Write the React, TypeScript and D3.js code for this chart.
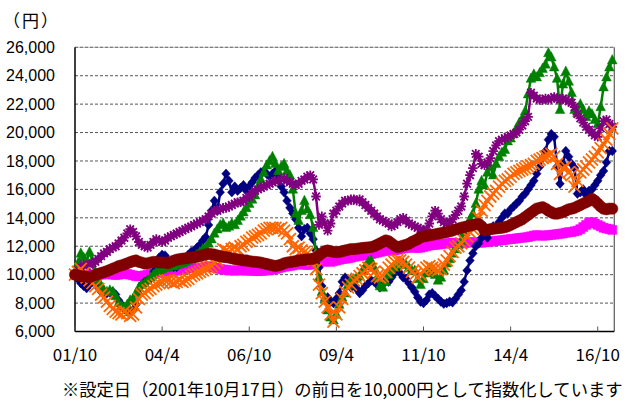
import React from "react";
import * as d3 from "d3";

// ---- data (monthly, 2001/10 .. 2017/3, index base 10,000 yen) ----
const xTickIndex = [0, 30, 60, 90, 120, 150, 180];
const xTickLabels = ["01/10", "04/4", "06/10", "09/4", "11/10", "14/4", "16/10"];
const yTicks = [6000, 8000, 10000, 12000, 14000, 16000, 18000, 20000, 22000, 24000, 26000];
const unitLabel = "（円）";
const footnote = "※設定日（2001年10月17日）の前日を10,000円として指数化しています";

const navyValues = [
  10000, 9700, 9400, 9200, 9050, 9300, 9500, 9400, 9100, 8800, 8650, 8700,
  8750, 8800, 8600, 8200, 7900, 7600, 7400, 7350, 7500, 7900, 8600, 9300,
  9500, 9600, 9700, 10200, 10800, 11200, 11400, 11350, 11000, 10700, 10550, 10550,
  10800, 11000, 11200, 11400, 11600, 11700, 11900, 12100, 12400, 12650, 13500, 14500,
  15200, 14500, 15800, 16400, 17100, 16600, 15800, 16200, 15900, 16100, 16300, 15900,
  16200, 16500, 16800, 17000, 17200, 17300, 17100, 16900, 17100, 17300, 16800, 16200,
  15800, 15200, 14700, 14300, 13900, 13300, 12700, 13200, 13300, 12900, 12500, 11700,
  10500, 9200, 8200, 8400, 8100, 8000, 8300, 8700, 9500, 9800, 9400, 9100,
  9300, 9000, 8700, 8900, 9200, 9400, 9600, 9500, 9300, 9100, 9300, 9600,
  9500, 9800, 10100, 10300, 10100, 9800, 9700, 9400, 9100, 8800, 8400, 8100,
  8000, 8200, 8600, 8700, 8500, 8300, 8100, 7950, 8000, 8100, 8050, 8300,
  8600, 8900, 9500, 10300, 11000, 11500, 12000, 12200, 12600, 12900, 12600, 13100,
  13400, 13300, 13700, 14000, 14300, 14300, 14600, 14800, 15000, 15200, 15500, 15700,
  16000, 16300, 16600, 17100, 17600, 18200, 18700, 19500, 19900, 19700, 17600, 16400,
  17800, 18700, 18300, 17800, 17500, 15700, 15800, 16000, 15600, 15900, 16000, 16300,
  16600, 17000, 17300, 17900, 18700, 18700,
];

const greenValues = [
  10000, 10800, 11500, 11200, 10900, 11600, 11000, 10200, 9600, 9200, 8900, 8800,
  8900, 8800, 8500, 8000, 7800, 7700, 7900, 8200, 8300, 8700, 9100, 9300,
  9400, 9600, 9800, 10000, 10200, 10300, 10400, 10500, 10500, 10600, 10600, 10700,
  10750, 10800, 10900, 11000, 11100, 11200, 11400, 11600, 11800, 11900, 12200, 12500,
  12900, 13200, 13500, 13600, 13300, 13400, 13600, 13500, 13800, 14100, 14400, 14700,
  15000, 15300, 15600, 16200, 16700, 17200, 17700, 18000, 18300, 17800, 17300, 17600,
  17800, 17300, 17000, 16000, 14300, 13800, 14500, 15200, 14600, 14200, 13300, 11500,
  9800, 8800, 8300, 7500, 7000, 6800, 7200, 7900, 8400, 8700, 9300, 9600,
  9700, 9800, 9900, 10300, 10600, 10900, 11000, 10500, 9800, 9200, 9100, 9500,
  10000, 10300, 10500, 10700, 10900, 10800, 10700, 10500, 10300, 10300, 9700, 9300,
  9700, 10100, 10200, 10400, 10000, 9600, 9800, 10300, 10800, 11100, 11500, 11800,
  12100, 12400, 13000, 13500, 13900, 14300, 15000, 16000, 16600, 16300, 17200, 17600,
  17000, 17800, 18300, 18600, 18800, 19400, 19600, 19900, 20300, 20700, 21000, 21500,
  22700, 23800, 24100, 23900, 24200, 24500, 24800, 25600, 25300, 24600, 23800, 21600,
  23400, 24300, 23600, 22800, 21600, 21400, 22000, 21600, 21100, 21500, 21300, 20900,
  20600, 21800, 23200, 23900, 24600, 25100,
];

const purpleValues = [
  10000, 10300, 10500, 10700, 10600, 10700, 10800, 10900, 11100, 11300, 11500, 11600,
  11800, 11900, 12000, 12200, 12400, 12600, 12900, 13200, 13000, 12700, 12300, 12100,
  12000, 11900, 12100, 12300, 12500, 12400, 12300, 12400, 12600, 12700, 12800, 12900,
  13000, 13100, 13200, 13300, 13400, 13500, 13600, 13700, 13800, 13900, 14100, 14300,
  14500, 14500, 14600, 14700, 14700, 14800, 14900, 15000, 15100, 15100, 15200, 15400,
  15500, 15700, 15900, 16000, 16100, 16200, 16300, 16400, 16500, 16600, 16600, 16700,
  16800, 16600, 16500, 16400, 16300, 16400, 16600, 16700, 16900, 17000, 16700, 15500,
  13500, 14100, 13600, 13100, 13600, 14300, 14500, 14800, 15000, 15200, 15200, 15300,
  15300, 15200, 15300, 15100, 14900, 14700, 14500, 14300, 14100, 13900, 13800, 13700,
  13600, 13400, 13500, 13700, 13900, 14000, 13800, 13600, 13500, 13400, 13300, 13200,
  13100, 13200, 13600, 14100, 14500, 14300, 13900, 13700, 13600, 13700, 13900, 14200,
  14500, 14800, 15500, 16400, 17000, 17500, 18500, 18300, 17800, 17700, 17900, 18200,
  18700, 19100, 19400, 19500, 19600, 19700, 19800, 19900, 20000, 20200, 20500, 20800,
  21100, 22800, 22600, 22400, 22300, 22300, 22400, 22300, 22400, 22500, 22400, 22300,
  22400, 22300, 22200, 22100, 21800, 21300, 21000, 20700, 20400, 20200, 20000, 19800,
  19700, 20300, 20800, 20900, 20600, 20400,
];

const orangeValues = [
  10000, 10200, 10400, 10100, 9800, 9600, 9400, 9200, 9000, 8600, 8400, 8100,
  7800, 7600, 7400, 7300, 7200, 7400, 7300, 7100, 7200, 7700, 8300, 8600,
  8700, 8900, 9000, 9200, 9300, 9400, 9500, 9600, 9600, 9500, 9400, 9500,
  9600, 9500, 9600, 9700, 9900, 10000, 10100, 10200, 10300, 10400, 10500, 10600,
  10800, 11000, 11400, 11800, 11700, 11600, 11800, 11900, 11800, 12000, 12100, 12300,
  12400, 12600, 12700, 12800, 12900, 13100, 13200, 13300, 13300, 13300, 13200, 13300,
  13100, 12900, 12500, 12000, 11800, 11900, 11700, 11600, 11500, 11300, 11000, 10400,
  9300, 8700, 8100, 7700, 7200, 6700, 7200, 7700, 8300, 8800, 9100, 9300,
  9600, 9700, 9900, 10100, 10300, 10500, 10400, 10200, 9900, 9800, 9900, 10200,
  10500, 10700, 10900, 11000, 11000, 10900, 10700, 10500, 10200, 10000, 9800, 10000,
  10300, 10500, 10600, 10500, 10400, 10300, 10400, 10700, 11000, 11300, 11600, 11900,
  12000, 12200, 12400, 12700, 13000, 13200, 13400, 14000, 14500, 14900, 15200, 15500,
  15700, 15900, 16200, 16400, 16600, 16700, 16900, 17100, 17200, 17300, 17400, 17500,
  17600, 17700, 17800, 18000, 18100, 18200, 18300, 18400, 18500, 18300, 17800, 17100,
  17500, 17600, 17200, 17000, 16200, 16600, 17200, 17400, 17600, 17900, 18100, 18300,
  18600, 18900, 19200, 19500, 19900, 20300,
];

const magentaValues = [
  10000, 9980, 9950, 9950, 9970, 10000, 10020, 10000, 9980, 10000, 10020, 10050,
  10030, 10000, 9980, 10000, 10050, 10080, 10050, 10000, 9950, 9900, 9880, 9900,
  9950, 10000, 10050, 10100, 10150, 10200, 10150, 10100, 10150, 10200, 10250, 10300,
  10350, 10400, 10400, 10450, 10500, 10450, 10400, 10450, 10500, 10550, 10600, 10550,
  10500, 10450, 10400, 10350, 10350, 10300, 10300, 10280, 10300, 10320, 10300, 10280,
  10300, 10280, 10260, 10250, 10260, 10280, 10300, 10320, 10350, 10400, 10450, 10500,
  10550, 10600, 10620, 10650, 10700, 10720, 10750, 10700, 10680, 10700, 10750, 10800,
  10850, 10900, 10950, 10950, 10900, 10950, 11000, 11050, 11100, 11120, 11150, 11200,
  11250, 11300, 11320, 11350, 11400, 11420, 11450, 11500, 11550, 11600, 11650, 11700,
  11700, 11680, 11700, 11750, 11800, 11850, 11880, 11900, 11920, 11900, 11880, 11900,
  11950, 12000, 12050, 12080, 12100, 12120, 12150, 12180, 12200, 12220, 12250, 12200,
  12180, 12200, 12220, 12250, 12270, 12300, 12280, 12250, 12250, 12280, 12300, 12320,
  12350, 12380, 12400, 12420, 12450, 12480, 12500, 12520, 12550, 12580, 12600, 12620,
  12650, 12700, 12750, 12780, 12760, 12740, 12750, 12780, 12800, 12820, 12850, 12880,
  12900, 12950, 12990, 13000, 13050, 13100, 13200, 13350, 13500, 13650, 13700, 13600,
  13500, 13400, 13300, 13250, 13200, 13150,
];

const maroonValues = [
  10000, 9950, 9900, 9880, 9850, 9820, 9900, 9980, 10050, 10120, 10180, 10250,
  10330, 10420, 10500, 10600, 10650, 10720, 10800, 10880, 10950, 11000, 10900, 10850,
  10780, 10800, 10850, 10900, 10880, 10860, 10870, 10840, 10810, 10900, 10980, 11050,
  11100, 11120, 11150, 11180, 11220, 11230, 11260, 11300, 11380, 11420, 11470, 11450,
  11400, 11350, 11300, 11250, 11230, 11200, 11150, 11100, 11080, 11050, 11000, 11000,
  10950, 10920, 10900, 10880, 10850, 10800, 10750, 10700, 10650, 10600, 10650, 10700,
  10800, 10850, 10880, 10920, 10950, 11000, 11020, 11050, 11080, 11100, 11120, 11200,
  11350, 11500, 11650, 11700, 11650, 11600, 11580, 11600, 11650, 11700, 11750, 11800,
  11800, 11820, 11850, 11880, 11900, 11920, 11940, 12000, 12100, 12200, 12300, 12410,
  12350, 12200, 12050, 11940, 11980, 12050, 12100, 12180, 12300, 12400, 12500, 12640,
  12680, 12720, 12760, 12800, 12840, 12880, 12920, 12960, 13000, 13050, 13100, 13180,
  13230, 13300, 13350, 13400, 13450, 13500, 13550, 13580, 13400, 13110, 13150, 13200,
  13230, 13250, 13280, 13300, 13340, 13400, 13500, 13600, 13700, 13800, 13900, 14050,
  14200, 14350, 14500, 14650, 14700, 14750, 14650, 14500, 14400, 14300, 14290, 14350,
  14400, 14500, 14600, 14640, 14700, 14800, 14900, 15000, 15100, 15200, 15340, 15200,
  15000, 14800, 14640, 14600, 14650, 14640,
];

type Marker = "square" | "diamond" | "triangle" | "star" | "x" | "circle";
interface Series { name: string; values: number[]; color: string; width: number; marker: Marker; }

// drawing order (last on top)
const series: Series[] = [
  { name: "magenta", values: magentaValues, color: "#FF00FF", width: 3, marker: "square" },
  { name: "navy", values: navyValues, color: "#000080", width: 2.5, marker: "diamond" },
  { name: "green", values: greenValues, color: "#008000", width: 2.5, marker: "triangle" },
  { name: "purple", values: purpleValues, color: "#800080", width: 2.5, marker: "star" },
  { name: "orange", values: orangeValues, color: "#FF6600", width: 2, marker: "x" },
  { name: "maroon", values: maroonValues, color: "#800000", width: 3, marker: "circle" },
];

const W = 632, H = 403;
const L = 75, R = 614.3, T = 47.3, B = 331.5;

const markerPath: Record<Marker, string> = {
  square: "M-4.5,-4.5h9v9h-9Z",
  diamond: "M0,-4.8L4.3,0L0,4.8L-4.3,0Z",
  triangle: "M0,-5.5L4.8,3.8L-4.8,3.8Z",
  star: "M-3.8,-3.8L3.8,3.8M-3.8,3.8L3.8,-3.8M0,-4.8L0,4.8M-4.8,0L4.8,0",
  x: "M-6,-6L6,6M-6,6L6,-6",
  circle: d3.symbol(d3.symbolCircle, 100)() as string,
};
const strokeMarker = (m: Marker) => m === "star" || m === "x";

export default function App() {
  const x = d3.scaleLinear().domain([0, 185.7]).range([L, R]);
  const y = d3.scaleLinear().domain([6000, 26000]).range([B, T]);
  const line = d3.line<number>().x((_, i) => x(i)).y((d) => y(d));
  const jp = "'Noto Sans CJK JP', 'Noto Sans', sans-serif";

  return (
    <svg width={W} height={H} style={{ position: "absolute", left: 0, top: 0, background: "#fff" }}>
      <rect x={0} y={0} width={W} height={H} fill="#fff" />
      {yTicks.filter((t) => t > 6000).map((t) => (
        <line key={t} x1={L} x2={R} y1={y(t)} y2={y(t)} stroke="#555" strokeWidth={1} strokeDasharray="3,2" />
      ))}
      <line x1={L} x2={R} y1={T} y2={T} stroke="#888" strokeWidth={0.6} />
      <line x1={R} x2={R} y1={T} y2={B} stroke="#666" strokeWidth={1.3} />
      <line x1={L} x2={L} y1={T} y2={B} stroke="#000" strokeWidth={1.5} />
      <line x1={L} x2={R} y1={B} y2={B} stroke="#000" strokeWidth={1.5} />
      {xTickIndex.map((i) => (
        <line key={i} x1={x(i)} x2={x(i)} y1={B} y2={B - 5} stroke="#555" strokeWidth={1} />
      ))}
      {series.map((s) => (
        <g key={s.name}>
          <path d={line(s.values) || ""} fill="none" stroke={s.color} strokeWidth={s.width} strokeLinejoin="round" />
          {s.values.map((v, i) => (
            <path
              key={i}
              transform={`translate(${x(i)},${y(v)})`}
              d={markerPath[s.marker]}
              fill={strokeMarker(s.marker) ? "none" : s.color}
              stroke={s.color}
              strokeWidth={strokeMarker(s.marker) ? 1.8 : 0.5}
            />
          ))}
        </g>
      ))}
      {yTicks.map((t) => (
        <text key={t} x={55} y={y(t)} dy="0.36em" textAnchor="end" fontFamily="'Liberation Sans', Arial, sans-serif" fontSize={16} fill="#000">
          {d3.format(",")(t)}
        </text>
      ))}
      {xTickIndex.map((i, k) => (
        <text key={i} x={x(i)} y={361} textAnchor="middle" fontFamily={jp} fontSize={17} fill="#000">
          {xTickLabels[k]}
        </text>
      ))}
      <text x={3} y={27} fontFamily={jp} fontSize={17} letterSpacing={2} fill="#000">{unitLabel}</text>
      <text x={62} y={396} fontFamily={jp} fontSize={17.3} fill="#000">{footnote}</text>
    </svg>
  );
}
